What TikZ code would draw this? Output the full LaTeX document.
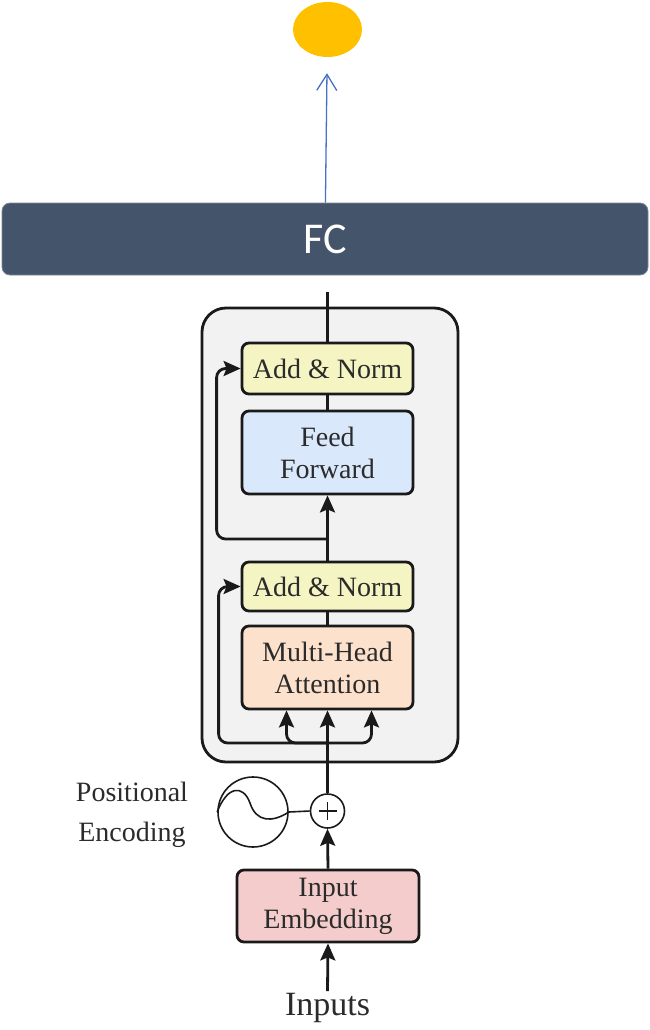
\documentclass[tikz,border=0pt]{standalone}
\usepackage{fontspec}
\setmainfont{Liberation Serif}
\newfontfamily\fcfont{Carlito}
\usetikzlibrary{arrows.meta,shapes.geometric}
\definecolor{ink}{HTML}{1A1A1A}
\definecolor{txt}{HTML}{2B2B2B}
\definecolor{slate}{HTML}{44546A}
\definecolor{gold}{HTML}{FFC000}
\definecolor{linkblue}{HTML}{4472C4}
\definecolor{blockgray}{HTML}{F2F2F2}
\definecolor{normyellow}{HTML}{F5F5C4}
\definecolor{ffblue}{HTML}{DAE8FC}
\definecolor{attpeach}{HTML}{FCE2CC}
\definecolor{embpink}{HTML}{F5CCCC}
\begin{document}
\begin{tikzpicture}[x=1pt,y=-1pt,
  line/.style={draw=ink,line width=2.8pt},
  arrow/.style={line,-{Stealth[length=17pt,width=15pt,inset=3pt]}},
  layer/.style={draw=ink,line width=2.8pt,rounded corners=7pt,minimum width=171pt,
    align=center,text=txt,inner sep=0pt,
    font=\fontsize{28}{32}\selectfont},
  block/.style={draw=ink,line width=2.8pt,rounded corners=24pt,fill=blockgray,
    minimum width=256pt,minimum height=454pt,inner sep=0pt},
  thin/.style={draw=ink,line width=1.6pt},
  label/.style={align=center,text=txt,inner sep=1pt,font=\fontsize{28}{40}\selectfont}]
\useasboundingbox (0,0) rectangle (649,1030);

% output unit and fully connected layer
\node[ellipse,fill=gold,minimum width=69pt,minimum height=55pt,inner sep=0pt] (out) at (327.5,29.5) {};
\node[fill=slate,draw=slate!70!white,line width=0.8pt,rounded corners=8pt,
  minimum width=646pt,minimum height=72pt,inner sep=0pt,text=white,
  font=\fcfont\fontsize{44}{44}\selectfont] (fc) at (325,239) {FC};
\draw[linkblue,line width=1.3pt,-{Straight Barb[length=16pt,width=20pt]},shorten >=16pt] (fc) -- (out);

% encoder block
\node[block] (enc) at (330,535) {};
\node[layer,fill=normyellow,minimum height=51pt] (an2) at (327.5,368.5) {Add \& Norm};
\node[layer,fill=ffblue,minimum height=83pt] (ff) at (327.5,452.5) {Feed\\Forward};
\node[layer,fill=normyellow,minimum height=49pt] (an1) at (327.5,586.5) {Add \& Norm};
\node[layer,fill=attpeach,minimum height=83pt] (mha) at (327.5,667.5) {Multi-Head\\Attention};

% input side
\node[layer,fill=embpink,minimum width=182pt,minimum height=72pt] (emb) at (328,906) {Input\\Embedding};
\node[circle,thin,minimum size=34pt,inner sep=0pt] (plus) at (327.5,811) {};
\node[circle,thin,minimum size=70pt,inner sep=0pt] (pe) at (253,812) {};
\node[label] (pelabel) at (132,815) {Positional\\Encoding};
\node[text=txt,inner sep=2pt,font=\fontsize{34}{34}\selectfont] (inputs) at (327.5,1008) {Inputs};

% plus sign and sinusoid
\draw[thin] ([xshift=-9pt]plus.center) -- ([xshift=9pt]plus.center)
            ([yshift=-9pt]plus.center) -- ([yshift=9pt]plus.center);
\draw[thin] (pe.west) .. controls (227,786) and (243,784) .. (250,803)
            .. controls (256,822) and (272,823) .. (pe.east);

% main data path
\coordinate (top) at (327.5,292);
\coordinate (r1) at (327.5,539);
\coordinate (r2) at (327.5,743);
\draw[line] (an2.north) -- (top);
\draw[line] (ff.north) -- (an2.south);
\draw[arrow] (an1.north) -- (ff.south);
\draw[line] (mha.north) -- (an1.south);
\draw[arrow] (plus.north) -- (mha.south);
\draw[arrow] (emb.north) -- (plus.south);
\draw[thin] (pe.east) -- (plus.west);
\draw[arrow] (inputs.north) -- (emb.south);

% residual connections
\draw[arrow,rounded corners=9pt] (r1) -| ([xshift=-24pt]an2.west) -- (an2.west);
\draw[arrow,rounded corners=9pt] (r2) -| ([xshift=-22pt]an1.west) -- (an1.west);

% query, key and value branches
\draw[arrow,rounded corners=9pt] (r2) -| ([xshift=-41pt]mha.south);
\draw[arrow,rounded corners=9pt] (r2) -| ([xshift=44pt]mha.south);
\end{tikzpicture}
\end{document}
